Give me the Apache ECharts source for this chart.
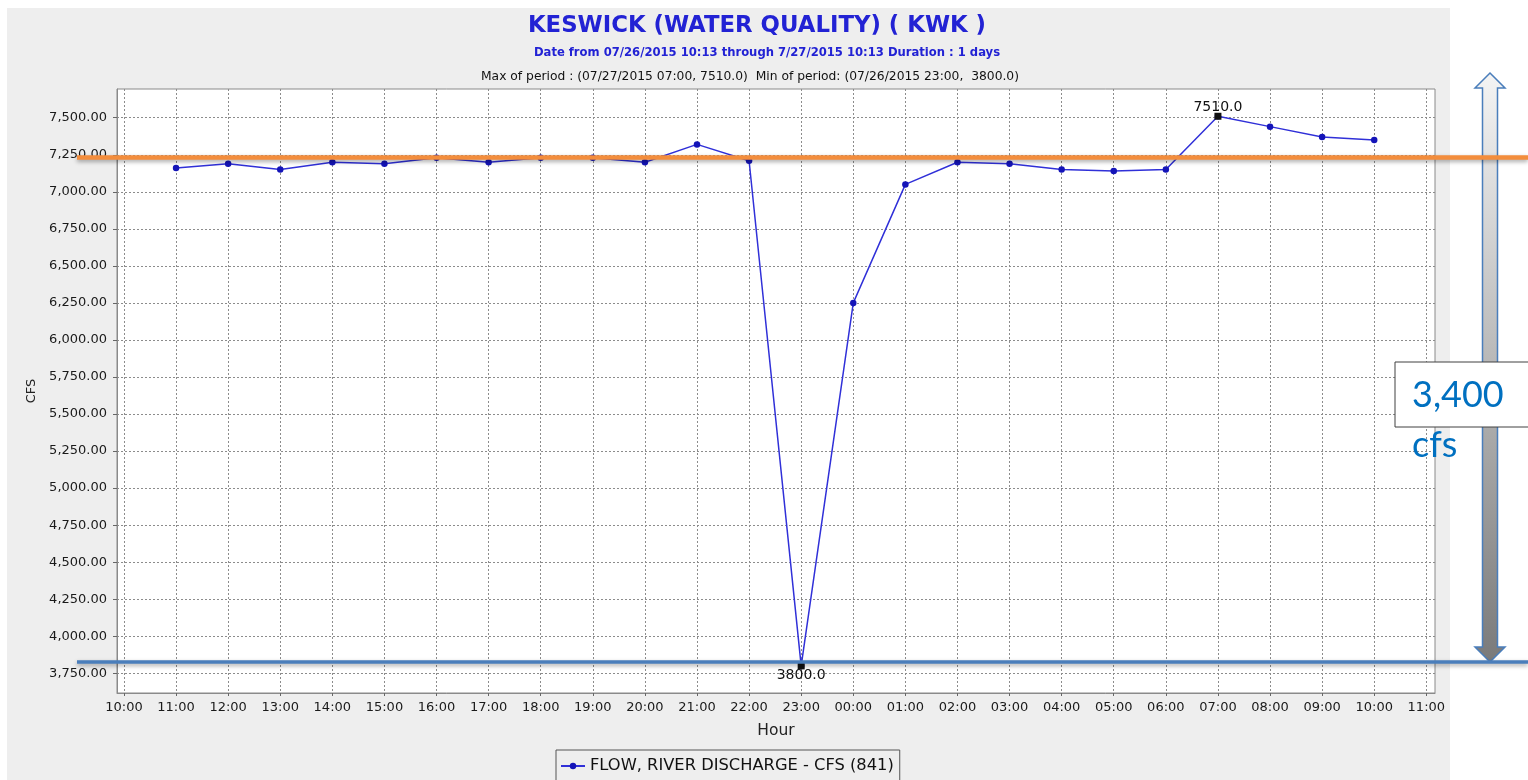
<!DOCTYPE html>
<html>
<head>
<meta charset="utf-8">
<script src="https://cdn.jsdelivr.net/npm/echarts@6/dist/echarts.min.js"></script>
<style>
  html, body { margin: 0; padding: 0; background: #ffffff; }
  #chart { width: 1528px; height: 780px; }
</style>
</head>
<body>
<div id="chart"></div>
<script>
// ---- data ----
const times = [
  '2015-07-26 11:00','2015-07-26 12:00','2015-07-26 13:00','2015-07-26 14:00',
  '2015-07-26 15:00','2015-07-26 16:00','2015-07-26 17:00','2015-07-26 18:00',
  '2015-07-26 19:00','2015-07-26 20:00','2015-07-26 21:00','2015-07-26 22:00',
  '2015-07-26 23:00','2015-07-27 00:00','2015-07-27 01:00','2015-07-27 02:00',
  '2015-07-27 03:00','2015-07-27 04:00','2015-07-27 05:00','2015-07-27 06:00',
  '2015-07-27 07:00','2015-07-27 08:00','2015-07-27 09:00','2015-07-27 10:00'
];
const flow = [
  7160, 7190, 7150, 7200, 7190, 7230, 7200, 7230,
  7230, 7200, 7320, 7210, 3800, 6250, 7050, 7200,
  7190, 7150, 7140, 7150, 7510, 7440, 7370, 7350
];
const hourTicks = [
  '2015-07-26 10:00','2015-07-26 11:00','2015-07-26 12:00','2015-07-26 13:00',
  '2015-07-26 14:00','2015-07-26 15:00','2015-07-26 16:00','2015-07-26 17:00',
  '2015-07-26 18:00','2015-07-26 19:00','2015-07-26 20:00','2015-07-26 21:00',
  '2015-07-26 22:00','2015-07-26 23:00','2015-07-27 00:00','2015-07-27 01:00',
  '2015-07-27 02:00','2015-07-27 03:00','2015-07-27 04:00','2015-07-27 05:00',
  '2015-07-27 06:00','2015-07-27 07:00','2015-07-27 08:00','2015-07-27 09:00',
  '2015-07-27 10:00','2015-07-27 11:00'
];
const yTicks = [3750, 4000, 4250, 4500, 4750, 5000, 5250, 5500, 5750, 6000,
                6250, 6500, 6750, 7000, 7250, 7500];
const axisRangeX = ['2015-07-26 09:52', '2015-07-27 11:10'];
const axisRangeY = [3617, 7694];
const refLevels = { upper: 7232, lower: 3826 };   // annotation lines (3,400 cfs difference)
const seriesName = 'FLOW, RIVER DISCHARGE - CFS (841)';
const titleText = 'KESWICK (WATER QUALITY) ( KWK )';
const subText = 'Date from 07/26/2015 10:13 through 7/27/2015 10:13 Duration : 1 days';
const extremaText = 'Max of period : (07/27/2015 07:00, 7510.0)  Min of period: (07/26/2015 23:00,  3800.0)';

// hours since 2015-07-26 00:00 (numeric x scale)
function toHours(s) {
  const [d, t] = s.split(' ');
  const [Y, M, D] = d.split('-').map(Number);
  const [h, m] = t.split(':').map(Number);
  return (Date.UTC(Y, M - 1, D, h, m) - Date.UTC(2015, 6, 26, 0, 0)) / 3600000;
}
function pad(n) { return (n < 10 ? '0' : '') + n; }
function fmtHour(v) {
  const tot = Math.round(v * 60);
  const h = Math.floor(tot / 60) % 24, m = tot % 60;
  return pad(h) + ':' + pad(m);
}
function fmtNum(v) {
  const s = v.toFixed(2);
  const [i, f] = s.split('.');
  return i.replace(/\B(?=(\d{3})+(?!\d))/g, ',') + '.' + f;
}

const FONT = 'DejaVu Sans';
const chart = echarts.init(document.getElementById('chart'), null, { renderer: 'canvas' });
const xTickVals = hourTicks.map(toHours);

const option = {
  animation: false,
  backgroundColor: 'transparent',
  title: [
    { text: titleText, left: 752, top: 10, textAlign: 'center',
      textStyle: { fontFamily: FONT, fontSize: 22.8, fontWeight: 'bold', color: '#2222d4' } },
    { text: subText, left: 762, top: 42, textAlign: 'center',
      textStyle: { fontFamily: FONT, fontSize: 11.6, fontWeight: 'bold', color: '#2222d4' } },
    { text: extremaText, left: 745, top: 66, textAlign: 'center',
      textStyle: { fontFamily: FONT, fontSize: 12.3, fontWeight: 'normal', color: '#111' } }
  ],
  grid: {
    left: 117, right: 93, top: 89, bottom: 87,
    show: true, backgroundColor: '#ffffff', borderColor: '#8a8a8a', borderWidth: 1,
    containLabel: false
  },
  legend: {
    left: 556, top: 750,
    padding: [8, 6, 9, 4],
    borderColor: '#555', borderWidth: 1,
    itemWidth: 24, itemHeight: 8, itemGap: 5,
    textStyle: { fontFamily: FONT, fontSize: 16.3, color: '#111' },
    data: [seriesName]
  },
  xAxis: {
    type: 'value',
    min: toHours(axisRangeX[0]), max: toHours(axisRangeX[1]),
    name: 'Hour', nameLocation: 'middle', nameGap: 30,
    nameTextStyle: { fontFamily: FONT, fontSize: 15.5, color: '#222' },
    axisLine: { show: true, onZero: false, lineStyle: { color: '#8a8a8a' } },
    axisTick: { show: true, length: 3, lineStyle: { color: '#666' }, customValues: xTickVals },
    axisLabel: { show: true, margin: 8, fontFamily: FONT, fontSize: 13, color: '#1a1a1a',
      customValues: xTickVals, formatter: fmtHour },
    splitLine: { show: true, lineStyle: { color: '#8c8c8c', type: [2, 2], width: 1 } }
  },
  yAxis: {
    type: 'value',
    min: axisRangeY[0], max: axisRangeY[1],
    name: 'CFS', nameLocation: 'middle', nameGap: 76, nameRotate: 90,
    nameTextStyle: { fontFamily: FONT, fontSize: 13, color: '#222' },
    axisLine: { show: true, onZero: false, lineStyle: { color: '#8a8a8a' } },
    axisTick: { show: true, length: 4, lineStyle: { color: '#666' }, customValues: yTicks },
    axisLabel: { show: true, margin: 10, fontFamily: FONT, fontSize: 13, color: '#1a1a1a',
      customValues: yTicks, formatter: fmtNum },
    splitLine: { show: true, lineStyle: { color: '#8c8c8c', type: [2, 2], width: 1 } }
  },
  series: [{
    name: seriesName,
    type: 'line',
    data: times.map((t, i) => [toHours(t), flow[i]]),
    symbol: 'circle', symbolSize: 6.5,
    showAllSymbol: true,
    lineStyle: { color: '#3030d8', width: 1.5 },
    itemStyle: { color: '#1414b8' },
    z: 3,
    markPoint: {
      symbol: 'rect', symbolSize: 7,
      itemStyle: { color: '#111' },
      label: { show: true, fontFamily: FONT, fontSize: 14, color: '#111',
        formatter: function (p) { return Number(p.value).toFixed(1); } },
      data: [
        { type: 'max', label: { position: 'top', distance: -2 } },
        { type: 'min', label: { position: 'bottom', distance: -1 } }
      ]
    }
  }]
};
chart.setOption(option);

// ---- overlay annotations ----
const yUp = chart.convertToPixel({ yAxisIndex: 0 }, refLevels.upper);
const yLo = chart.convertToPixel({ yAxisIndex: 0 }, refLevels.lower);
const ax = 1490;          // arrow centre x
const topTip = 73;
const shaftHalf = 7.5, headHalf = 15, headLen = 15;
const arrowPts = [
  [ax, topTip],
  [ax + headHalf, topTip + headLen],
  [ax + shaftHalf, topTip + headLen],
  [ax + shaftHalf, yLo - headLen],
  [ax + headHalf, yLo - headLen],
  [ax, yLo],
  [ax - headHalf, yLo - headLen],
  [ax - shaftHalf, yLo - headLen],
  [ax - shaftHalf, topTip + headLen],
  [ax - headHalf, topTip + headLen]
];
const shadow = { shadowBlur: 4, shadowOffsetY: 2, shadowColor: 'rgba(0,0,0,0.35)' };

chart.setOption({
  graphic: [
    { type: 'rect', z: -100, silent: true,
      shape: { x: 7, y: 8, width: 1443, height: 780 },
      style: { fill: '#eeeeee' } },
    { type: 'polygon', z: 100, silent: true,
      shape: { points: arrowPts },
      style: {
        fill: new echarts.graphic.LinearGradient(0, 0, 0, 1, [
          { offset: 0, color: '#f4f4f4' },
          { offset: 1, color: '#7a7a7a' }
        ]),
        stroke: '#4a7ebb', lineWidth: 1.5
      } },
    { type: 'line', z: 101, silent: true,
      shape: { x1: 77, y1: yUp, x2: 1528, y2: yUp },
      style: Object.assign({ stroke: '#f38d3c', lineWidth: 4.5 }, shadow) },
    { type: 'line', z: 101, silent: true,
      shape: { x1: 77, y1: yLo, x2: 1528, y2: yLo },
      style: Object.assign({ stroke: '#4a7ebb', lineWidth: 3.5 }, shadow) },
    { type: 'rect', z: 102, silent: true,
      shape: { x: 1395, y: 362, width: 140, height: 65 },
      style: { fill: '#ffffff', stroke: '#404040', lineWidth: 1 } },
    { type: 'text', z: 103, silent: true, x: 1412, y: 395,
      style: { text: '3,400', fill: '#0070c0', font: '36px Lato', verticalAlign: 'middle' } },
    { type: 'text', z: 103, silent: true, x: 1412, y: 445,
      style: { text: 'cfs', fill: '#0070c0', font: '36px Lato', verticalAlign: 'middle' } }
  ]
});
</script>
</body>
</html>
